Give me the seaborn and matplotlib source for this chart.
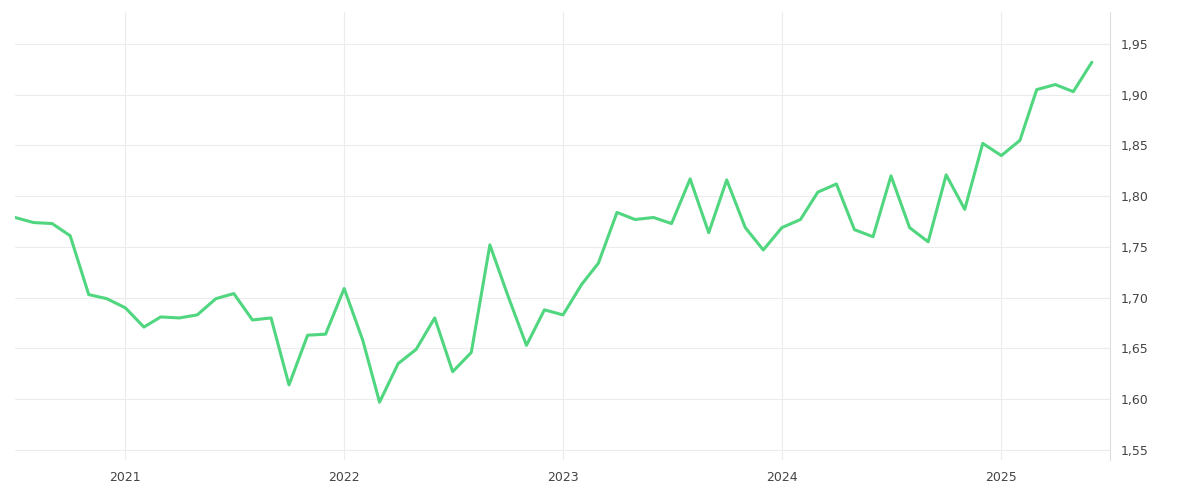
import matplotlib
matplotlib.use("Agg")
import matplotlib.pyplot as plt
import seaborn as sns
import pandas as pd
import matplotlib.dates as mdates
from matplotlib.ticker import FuncFormatter

dates = pd.date_range("2020-07-01", periods=60, freq="MS")
values = [1.779,1.774,1.773,1.761,1.703,1.699,1.690,1.671,1.681,1.680,1.683,1.699,
          1.704,1.678,1.680,1.614,1.663,1.664,1.709,1.658,1.597,1.635,1.649,1.680,
          1.627,1.646,1.752,1.702,1.653,1.688,1.683,1.713,1.734,1.784,1.777,1.779,
          1.773,1.817,1.764,1.816,1.769,1.747,1.769,1.777,1.804,1.812,1.767,1.760,
          1.820,1.769,1.755,1.821,1.787,1.852,1.840,1.855,1.905,1.910,1.903,1.932]
df = pd.DataFrame({"date": dates, "value": values})

sns.set_style("white")
fig = plt.figure(figsize=(12, 5), dpi=100)
ax = fig.add_axes([15/1200, 40/500, 1095/1200, 448/500])
sns.lineplot(data=df, x="date", y="value", ax=ax, color="#4fd67f", linewidth=2.2)

ax.set_xlim(pd.Timestamp("2020-07-01"), pd.Timestamp("2020-07-01") + pd.Timedelta(days=1095/219*365.25))
ax.set_ylim(1.54, 1.9815)
ax.set_yticks([1.55,1.60,1.65,1.70,1.75,1.80,1.85,1.90,1.95])
ax.yaxis.set_major_formatter(FuncFormatter(lambda v, p: f"{v:.2f}".replace(".", ",")))
ax.yaxis.tick_right()
ax.xaxis.set_major_locator(mdates.YearLocator())
ax.xaxis.set_major_formatter(mdates.DateFormatter("%Y"))
ax.grid(True, color="#ececec", linewidth=0.8)
ax.set_xlabel(""); ax.set_ylabel("")
for s in ["top", "left", "bottom"]:
    ax.spines[s].set_visible(False)
ax.spines["right"].set_color("#dddddd")
ax.tick_params(axis="both", length=0, labelsize=9, colors="#444444", pad=8)
fig.savefig("out.png", dpi=100)
